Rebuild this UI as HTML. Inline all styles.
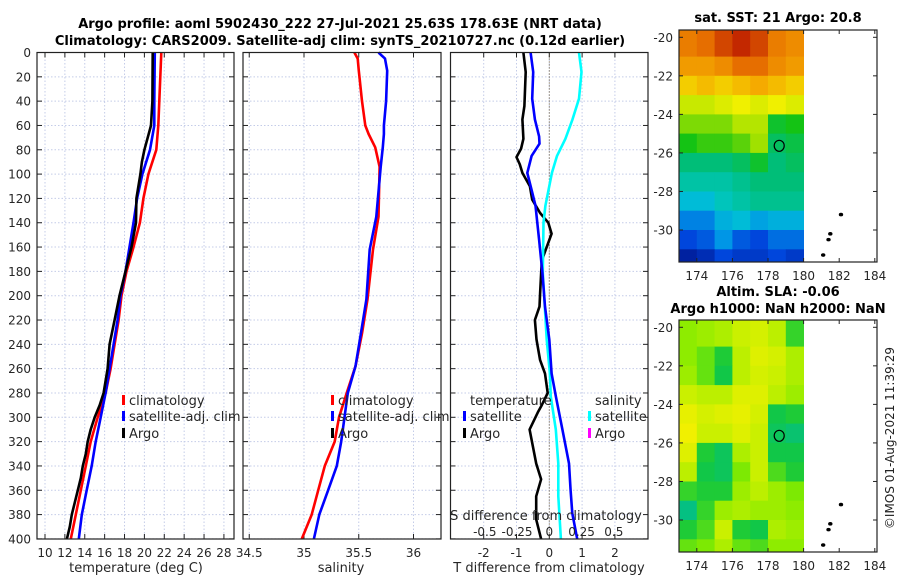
<!DOCTYPE html>
<html><head><meta charset="utf-8"><style>
html,body{margin:0;padding:0;background:#fff;}
svg{display:block;font-family:"DejaVu Sans","Liberation Sans",sans-serif;}
</style></head><body>
<svg id="fig" width="900" height="580" viewBox="0 0 900 580" xmlns="http://www.w3.org/2000/svg">
<text x="340" y="28" text-anchor="middle" font-weight="bold" font-size="13">Argo profile: aoml 5902430_222 27-Jul-2021 25.63S 178.63E (NRT data)</text>
<text x="340" y="45" text-anchor="middle" font-weight="bold" font-size="13">Climatology: CARS2009. Satellite-adj clim: synTS_20210727.nc (0.12d earlier)</text>
<text x="778" y="22" text-anchor="middle" font-weight="bold" font-size="13">sat. SST: 21 Argo: 20.8</text>
<text x="778" y="296" text-anchor="middle" font-weight="bold" font-size="13">Altim. SLA: -0.06</text>
<text x="778" y="313" text-anchor="middle" font-weight="bold" font-size="13">Argo h1000: NaN h2000: NaN</text>
<text transform="translate(894,438) rotate(-90)" text-anchor="middle" font-size="12" fill="#222">©IMOS 01-Aug-2021 11:39:29</text>
<g id="g"></g>
</svg>
<script>
// ---------- profile data ----------
const depthT = [0,40,60,80,100,120,140,160,180,200,220,240,260,280,300,320,340,360,380,400];
const tempClim = [21.7,21.5,21.4,21.2,20.4,19.9,19.55,18.9,18.2,17.7,17.4,17.0,16.6,16.1,15.3,14.6,14.1,13.6,13.1,12.6];
const tempSat  = [21.05,21.0,21.0,20.56,19.8,19.27,18.9,18.5,18.1,17.6,17.3,16.9,16.5,16.1,15.6,15.1,14.7,14.2,13.7,13.4];
const depthArgo = [0,40,60,80,90,100,120,140,160,180,200,220,240,260,280,290,300,310,320,330,340,350,360,370,380,390,400];
const tempArgo = [20.84,20.8,20.66,20.0,19.75,19.6,19.2,19.15,18.7,18.1,17.5,17.0,16.5,16.3,15.9,15.5,15.0,14.6,14.3,14.1,13.8,13.6,13.3,13.0,12.7,12.5,12.2];
const depthS = [0,5,15,40,60,67,78,94,135,162,203,231,258,280,300,320,340,360,380,400];
const salClim = [35.46,35.49,35.5,35.53,35.56,35.59,35.65,35.69,35.68,35.63,35.58,35.53,35.47,35.39,35.32,35.28,35.19,35.13,35.07,34.98];
const salSat  = [35.68,35.74,35.76,35.75,35.73,35.73,35.72,35.7,35.66,35.6,35.57,35.52,35.47,35.4,35.37,35.34,35.3,35.22,35.14,35.09];
const depthD = [0,16,38,55,69,75,85,99,113,126,154,181,209,236,264,283,310,338,360,379,400];
const tDiffSat = [-0.57,-0.49,-0.52,-0.44,-0.31,-0.3,-0.54,-0.67,-0.54,-0.42,-0.31,-0.21,-0.13,0,0.07,0.2,0.4,0.6,0.65,0.7,0.85];
const depthDA = [0,16,44,55,71,79,86,92,99,110,121,132,140,149,160,171,198,209,220,236,253,264,280,291,296,310,324,338,351,365,384,400];
const tDiffArgo = [-0.79,-0.72,-0.76,-0.82,-0.79,-0.86,-1.0,-0.9,-0.82,-0.59,-0.52,-0.28,-0.03,0.07,-0.08,-0.23,-0.28,-0.3,-0.44,-0.39,-0.28,-0.13,-0.05,-0.25,-0.35,-0.6,-0.5,-0.4,-0.25,-0.4,-0.4,-0.25];
const depthDS = [0,16,38,55,71,85,99,126,140,181,209,236,264,283,310,338,365,400];
const sDiffSat = [0.23,0.25,0.23,0.18,0.125,0.06,0.02,-0.03,-0.045,-0.05,-0.035,-0.02,0.005,0.012,0.05,0.07,0.07,0.09];
// ---------- map data (1-degree cells, lon 173..180, lat -20..-31.65) ----------
const mapLons = [173,174,175,176,177,178,179];
const mapLats = [-20,-21,-22,-23,-24,-25,-26,-27,-28,-29,-30,-31];
const sstGrid = [
[22.5,22.6,22.8,22.95,22.8,22.5,22.4],
[22.3,22.3,22.4,22.6,22.6,22.4,22.3],
[22.0,22.1,22.0,22.1,22.2,22.1,22.0],
[21.6,21.6,21.7,21.8,21.7,21.8,21.7],
[21.3,21.3,21.3,21.5,21.5,20.9,21.0],
[21.0,21.1,21.1,21.2,21.4,20.7,20.8],
[20.6,20.6,20.6,20.7,20.9,20.6,20.7],
[20.4,20.4,20.4,20.5,20.6,20.6,20.6],
[20.1,20.1,20.3,20.4,20.5,20.5,20.5],
[19.7,19.7,20.0,20.1,19.9,20.0,20.0],
[19.4,19.5,19.8,19.5,19.4,19.6,19.6],
[19.1,19.2,19.4,19.3,19.3,19.4,19.3]];
const slaGrid = [
[0,0.1,0.2,0.4,0.5,0.3,-0.4],
[0,-0.2,-0.5,0.3,0.6,0.5,0.2],
[0.1,-0.2,-0.6,0.3,0.5,0.4,0.2],
[0.4,0.3,0.3,0.6,0.6,0.3,0.1],
[0.7,0.5,0.6,0.7,0.5,-0.6,-0.5],
[0.8,0.4,0.4,0.6,0.4,-0.7,-0.8],
[0.6,-0.5,-0.7,0.2,0.4,-0.6,-0.6],
[0.3,-0.6,-0.7,-0.1,0.4,-0.3,-0.5],
[-0.4,-0.5,-0.5,0.1,0.3,0.1,-0.1],
[-0.9,-0.4,0.1,0.2,0.1,0.1,0.0],
[-0.5,-0.3,0.4,-0.5,-0.6,0.2,0.1],
[-0.2,-0.1,0.2,-0.2,-0.3,0.0,0.0]];
const floatLon = 178.63, floatLat = -25.63;
const islandLons = [182.1,181.5,181.4,181.1];
const islandLats = [-29.2,-30.2,-30.5,-31.3];
const depthTicks = [0,20,40,60,80,100,120,140,160,180,200,220,240,260,280,300,320,340,360,380,400];
const tTicks = [10,12,14,16,18,20,22,24,26,28];
const sTicks = [34.5,35,35.5,36];
const dTicks = [-2,-1,0,1,2];
const sdTicks = [-0.5,-0.25,0,0.25,0.5];
const lonTicks = [174,176,178,180,182,184];
const latTicks = [-20,-22,-24,-26,-28,-30];

const NS="http://www.w3.org/2000/svg";
const G=document.getElementById('g');
function el(tag,attrs,parent){const e=document.createElementNS(NS,tag);for(const k in attrs)e.setAttribute(k,attrs[k]);(parent||G).appendChild(e);return e;}
function txt(x,y,s,anchor,size,parent){const t=el('text',{x:x,y:y,'text-anchor':anchor||'middle','font-size':size||12,fill:'#262626'},parent);t.textContent=s;return t;}

const Y0=52.5, YS=1.216, YB=539;
const yD=d=>Y0+d*YS;
const xT=t=>45+(t-10)*9.94;
const xS=s=>304+(s-35)*109.5;
const xD=v=>549.3+v*32.8;
const xSD=s=>549.3+s*129;

const panels=[{x0:37,x1:234,name:'temperature-panel'},{x0:243,x1:441,name:'salinity-panel'},{x0:450.5,x1:648,name:'difference-panel'}];
function panelFrame(p,xticks,xf,labels){
  const g=el('g',{});
  
  
  el('rect',{x:p.x0,y:Y0,width:p.x1-p.x0,height:YB-Y0,fill:'#fff'},g);
  xticks.forEach(v=>{const x=xf(v);if(x>p.x0+1&&x<p.x1-1){el('line',{x1:x,x2:x,y1:Y0,y2:YB,stroke:'#c4cce8','stroke-width':1,'stroke-dasharray':'1.5,2'},g);}});
  depthTicks.forEach(d=>{const y=yD(d);el('line',{x1:p.x0,x2:p.x1,y1:y,y2:y,stroke:'#c4cce8','stroke-width':1,'stroke-dasharray':'1.5,2'},g);
    el('line',{x1:p.x0,x2:p.x0+5,y1:y,y2:y,stroke:'#222'},g);el('line',{x1:p.x1-5,x2:p.x1,y1:y,y2:y,stroke:'#222'},g);});
  xticks.forEach(v=>{const x=xf(v);el('line',{x1:x,x2:x,y1:YB,y2:YB-5,stroke:'#222'},g);el('line',{x1:x,x2:x,y1:Y0,y2:Y0+5,stroke:'#222'},g);});
  if(labels){xticks.forEach((v,i)=>{txt(xf(v),557,labels[i],'middle',12,g);});}
  return g;
}
function frameBorder(p){el('rect',{x:p.x0,y:Y0,width:p.x1-p.x0,height:YB-Y0,fill:'none',stroke:'#222','stroke-width':1.2});}
function line(xs,ds,xf,color,name,w){
  const pts=xs.map((v,i)=>xf(v).toFixed(1)+','+yD(ds[i]).toFixed(1)).join(' ');
  const pl=el('polyline',{points:pts,fill:'none',stroke:color,'stroke-width':w||2.6,'stroke-linejoin':'round'});
  
  
}
panelFrame(panels[0],tTicks,xT,tTicks.map(String));
depthTicks.forEach(d=>{const t=txt(31,yD(d)+4.5,String(d),'end',12);});
line(tempClim,depthT,xT,'#ff0000','temp-climatology-line');
line(tempSat,depthT,xT,'#0000ff','temp-satellite-line');
line(tempArgo,depthArgo,xT,'#000000','temp-argo-line');
panelFrame(panels[1],sTicks,xS,['34.5','35','35.5','36']);
line(salClim,depthS,xS,'#ff0000','sal-climatology-line');
line(salSat,depthS,xS,'#0000ff','sal-satellite-line');
panelFrame(panels[2],dTicks,xD,['-2','-1','0','1','2']);
el('line',{x1:xD(0),x2:xD(0),y1:Y0,y2:YB,stroke:'#5a4a2a','stroke-width':1,'stroke-dasharray':'1,2'});
line(tDiffArgo,depthDA,xD,'#000000','tdiff-argo-line');
line(sDiffSat,depthDS,xSD,'#00ffff','sdiff-satellite-line');
line(tDiffSat,depthD,xD,'#0000ff','tdiff-satellite-line');
panels.forEach(frameBorder);
let t;
t=txt(136,572,'temperature (deg C)','middle',13);
t=txt(341,572,'salinity','middle',13);
t=txt(549,572,'T difference from climatology','middle',13);
t=txt(546,520,'S difference from climatology','middle',13);
sdTicks.forEach(v=>{const s=txt(xSD(v),536,String(v),'middle',12);});
function legend(x,y,color,label,name){
  const g=el('g',{});
  
  
  el('rect',{x:x,y:y-10,width:3,height:10,fill:color},g);
  txt(x+7,y,label,'start',13,g);
}
legend(122,405,'#ff0000','climatology','legend-entry-climatology');
legend(122,421,'#0000ff','satellite-adj. clim','legend-entry-satellite-adj');
legend(122,438,'#000000','Argo','legend-entry-argo');
legend(331,405,'#ff0000','climatology','legend-entry-sal-climatology');
legend(331,421,'#0000ff','satellite-adj. clim','legend-entry-sal-satellite-adj');
legend(331,438,'#000000','Argo','legend-entry-sal-argo');
t=txt(470,405,'temperature','start',13);
legend(463,421,'#0000ff','satellite','legend-entry-tdiff-satellite');
legend(463,438,'#000000','Argo','legend-entry-tdiff-argo');
t=txt(595,405,'salinity','start',13);
legend(588,421,'#00ffff','satellite','legend-entry-sdiff-satellite');
legend(588,438,'#ff00ff','Argo','legend-entry-sdiff-argo');

function interp(stops,v){v=Math.max(0,Math.min(1,v));const n=stops.length-1;const f=v*n;const i=Math.min(n-1,Math.floor(f));const r=f-i;
  const a=stops[i],b=stops[i+1];return 'rgb('+a.map((c,k)=>Math.round(c+(b[k]-c)*r)).join(',')+')';}
const sstStops=[[0,20,140],[0,70,220],[0,150,230],[0,200,210],[0,190,120],[20,195,20],[160,225,0],[240,240,0],[245,170,0],[230,110,0],[190,30,0]];
const slaStops=[[0,190,150],[20,200,60],[130,235,0],[200,240,0],[245,240,0],[245,180,0]];
function map(top,grid,stops,vmin,vmax,name){
  const X0=679,X1=877,Y1=top+232;
  const lx=lon=>679+(lon-173)*17.8;
  const ly=lat=>top+7.3+(-20-lat)*19.27;
  const g=el('g',{});
  
  
  el('rect',{x:X0,y:top,width:X1-X0,height:Y1-top,fill:'#fff'},g);
  grid.forEach((row,r)=>row.forEach((v,c)=>{
    const xa=lx(mapLons[c]),xb=lx(mapLons[c]+1);
    const ya=r===0?top:ly(mapLats[r]),yb=r===grid.length-1?Y1:ly(mapLats[r]-1);
    const cell=el('rect',{x:xa.toFixed(1),y:ya.toFixed(1),width:(xb-xa+0.4).toFixed(1),height:(yb-ya+0.4).toFixed(1),fill:interp(stops,(v-vmin)/(vmax-vmin))},g);
    
    
  }));
  islandLons.forEach((lo,i)=>{const d=el('ellipse',{cx:lx(lo),cy:ly(islandLats[i]),rx:1.8,ry:1.4,fill:'#000',stroke:'#000','stroke-width':0.8},g);});
  const c=el('ellipse',{cx:lx(floatLon),cy:ly(floatLat),rx:5,ry:5.5,fill:'none',stroke:'#000','stroke-width':1.2},g);
  
  
  el('rect',{x:X0,y:top,width:X1-X0,height:Y1-top,fill:'none',stroke:'#222','stroke-width':1.2},g);
  lonTicks.forEach(lo=>{const x=lx(lo);el('line',{x1:x,x2:x,y1:Y1,y2:Y1-4,stroke:'#222'},g);el('line',{x1:x,x2:x,y1:top,y2:top+4,stroke:'#222'},g);txt(x,Y1+18,String(lo),'middle',12,g);});
  latTicks.forEach(la=>{const y=ly(la);el('line',{x1:X0,x2:X0+4,y1:y,y2:y,stroke:'#222'},g);el('line',{x1:X1-4,x2:X1,y1:y,y2:y,stroke:'#222'},g);txt(X0-6,y+4.5,String(la),'end',12,g);});
}
map(30,sstGrid,sstStops,19,23,'sst-map');
map(320,slaGrid,slaStops,-1,1.3,'sla-map');
</script>
</body></html>
